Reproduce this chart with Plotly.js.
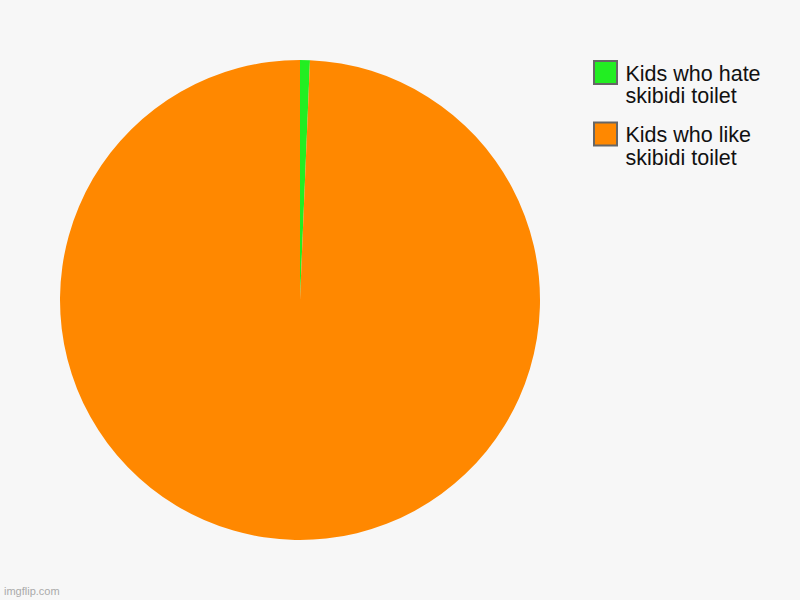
<!DOCTYPE html>
<html>
<head>
<meta charset="utf-8">
<script src="https://cdn.plot.ly/plotly-3.0.1.min.js"></script>
<style>
    body { margin: 0; background: #f7f7f7; }
    #chart { width: 800px; height: 600px; }
</style>
</head>
<body>
<div id="chart"></div>
<script>
// data
let labels = ['Kids who hate<br>skibidi toilet', 'Kids who like<br>skibidi toilet'];
let values = [1, 150];
let colors = ['#22ee22', '#ff8800'];

function drawPie(el) {
    let pieData = [{
        type: 'pie',
        labels: labels,
        values: values,
        marker: {
            colors: colors,
            line: { width: 0 }
        },
        sort: false,
        direction: 'clockwise',
        rotation: 0,
        textinfo: 'none',
        hoverinfo: 'none',
        domain: { x: [0, 480 / 680], y: [0, 1] }
    }];

    let pieLayout = {
        width: 800,
        height: 600,
        paper_bgcolor: '#f7f7f7',
        plot_bgcolor: '#f7f7f7',
        font: { family: 'Liberation Sans, Arial, sans-serif', color: '#111' },
        margin: { l: 60, r: 60, t: 60, b: 60 },
        showlegend: true,
        legend: {
            x: (585.5 - 60) / 680,
            xanchor: 'left',
            y: 1 + 8 / 480,
            yanchor: 'top',
            valign: 'top',
            bgcolor: 'rgba(0,0,0,0)',
            font: { size: 21.5, color: '#111' }
        },
        annotations: [{
            text: 'imgflip.com',
            xref: 'paper',
            yref: 'paper',
            x: (2 - 60) / 680,
            y: (540 - 599) / 480,
            xanchor: 'left',
            yanchor: 'bottom',
            showarrow: false,
            font: { size: 11, color: '#aaaaaa' }
        }]
    };

    Plotly.newPlot(el, pieData, pieLayout, { staticPlot: true }).then(function () {
        // bigger legend squares with a grey edge, like the original
        el.querySelectorAll('.legendpoints path.legendpie').forEach(function (p) {
            p.setAttribute('d', 'M11.5,11.5H-11.5V-11.5H11.5Z');
            p.style.stroke = '#666';
            p.style.strokeWidth = '2px';
        });
        // tighter line spacing in the legend labels (only the wrapped lines)
        el.querySelectorAll('.legend text.legendtext tspan.line').forEach(function (t) {
            let dy = parseFloat(t.getAttribute('dy'));
            if (dy > 0) t.setAttribute('dy', (dy * 0.8) + 'em');
        });
        // second entry sits a little lower in the original
        let items = el.querySelectorAll('.legend .traces');
        if (items.length > 1) {
            let tr = items[1].getAttribute('transform') || '';
            let m = tr.match(/translate\(([-\d.]+),\s*([-\d.]+)\)/);
            if (m) items[1].setAttribute('transform', 'translate(' + m[1] + ',' + (parseFloat(m[2]) + 2.5) + ')');
        }
    });
}

drawPie(document.getElementById('chart'));
</script>
</body>
</html>
